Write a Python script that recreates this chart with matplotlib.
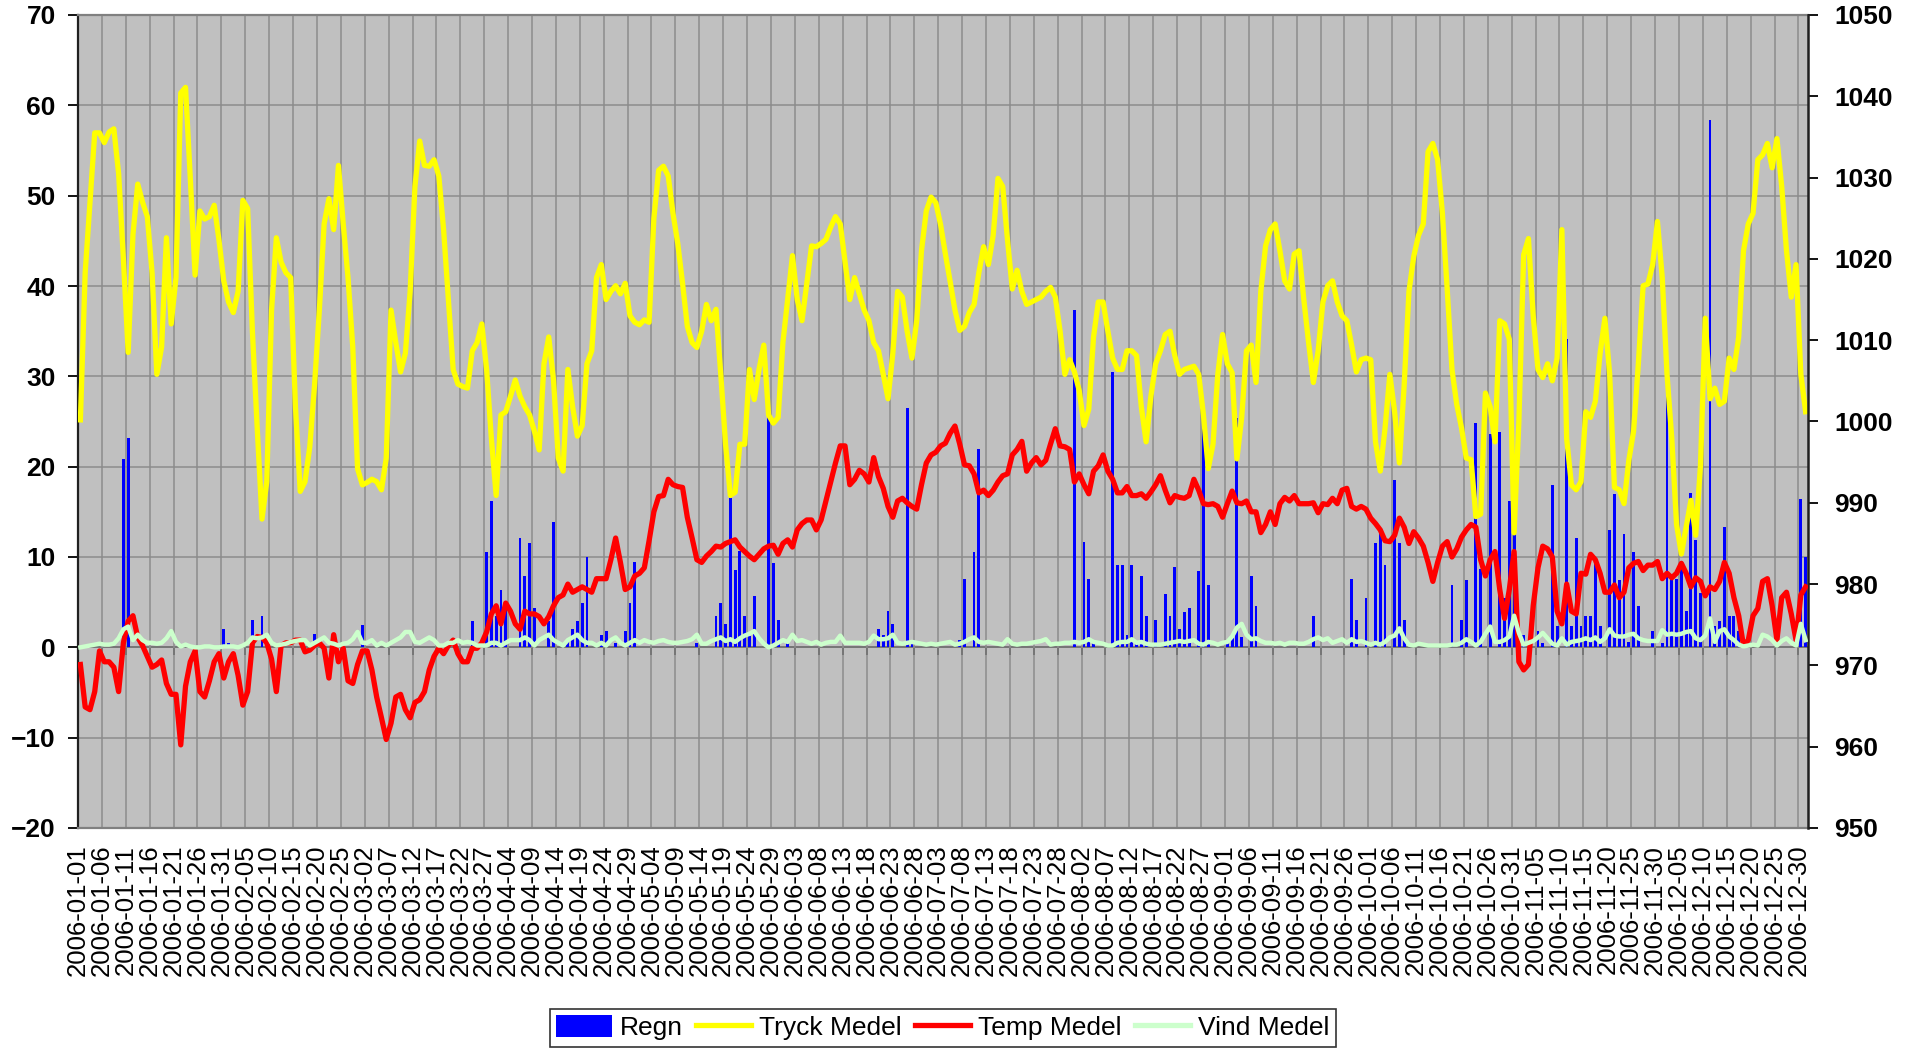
import numpy as np
import pandas as pd
import matplotlib
matplotlib.use("Agg")
import matplotlib.pyplot as plt
from matplotlib.patches import Patch
from matplotlib.lines import Line2D

plt.rcParams['font.family'] = ['Liberation Sans', 'DejaVu Sans']

# ---- categories (dates; a few days missing around 1 April) ----
dates_part1 = pd.date_range('2006-01-01', '2006-03-27')
dates_gap = pd.to_datetime(['2006-03-28', '2006-03-29', '2006-03-30', '2006-03-31'])
dates_part2 = pd.date_range('2006-04-04', '2006-12-31')
dates = [d.strftime('%Y-%m-%d') for d in list(dates_part1) + list(dates_gap) + list(dates_part2)]
tick_labels = dates[::5]

# ---- Tryck Medel (hPa, right axis) ----
tryck = [
    1000.2, 1018.3, 1027.0, 1035.5, 1035.5, 1034.3, 1035.6, 1036.0, 1030.5, 1020.0,
    1008.5, 1023.0, 1029.2, 1027.0, 1025.2, 1018.3, 1005.8, 1009.2, 1022.6, 1012.0,
    1017.7, 1040.4, 1041.1, 1029.9, 1018.0, 1025.9, 1024.9, 1025.2, 1026.6, 1022.3,
    1017.3, 1014.7, 1013.4, 1016.0, 1027.2, 1026.2, 1011.0, 999.2, 988.0, 992.6,
    1013.7, 1022.6, 1019.6, 1018.3, 1017.7, 1001.8, 991.4, 992.6, 996.9, 1004.5,
    1013.7, 1024.3, 1027.4, 1023.6, 1031.5, 1024.3, 1017.7, 1009.1, 994.2, 992.2,
    992.5, 992.9, 992.6, 991.6, 995.5, 1013.7, 1009.7, 1006.1, 1008.4, 1016.0,
    1028.9, 1034.5, 1031.5, 1031.4, 1032.2, 1030.2, 1023.6, 1015.0, 1006.4, 1004.6,
    1004.3, 1004.1, 1008.7, 1009.7, 1012.0, 1006.4, 997.9, 990.9, 1000.8, 1001.2,
    1003.1, 1005.1, 1003.1, 1001.8, 1000.8, 998.8, 996.5, 1007.1, 1010.4, 1005.1,
    995.5, 993.9, 1006.4, 1001.8, 998.2, 999.5, 1007.1, 1008.7, 1017.7, 1019.3,
    1015.0, 1016.0, 1016.7, 1015.7, 1017.0, 1013.0, 1012.2, 1011.9, 1012.5, 1012.2,
    1025.0, 1030.9, 1031.4, 1030.2, 1025.6, 1021.9, 1017.0, 1011.7, 1009.7, 1009.1,
    1011.1, 1014.4, 1012.4, 1013.8, 1005.8, 997.2, 990.9, 991.3, 997.2, 997.2,
    1006.4, 1002.7, 1006.4, 1009.4, 1000.8, 999.8, 1000.5, 1009.7, 1015.0, 1020.4,
    1015.0, 1012.4, 1017.0, 1021.6, 1021.5, 1021.9, 1022.4, 1023.9, 1025.2, 1024.3,
    1019.6, 1015.0, 1017.7, 1015.7, 1013.7, 1012.4, 1009.7, 1008.7, 1005.8, 1002.8,
    1008.4, 1016.0, 1015.3, 1011.1, 1007.8, 1012.4, 1021.0, 1025.9, 1027.6, 1026.9,
    1024.2, 1020.6, 1017.2, 1013.7, 1011.2, 1011.7, 1013.4, 1014.4, 1018.3, 1021.5,
    1019.3, 1022.9, 1029.9, 1028.9, 1022.3, 1016.3, 1018.6, 1016.0, 1014.4, 1014.7,
    1015.0, 1015.3, 1016.0, 1016.5, 1015.3, 1011.1, 1005.8, 1007.6, 1006.1, 1003.8,
    999.5, 1001.5, 1010.4, 1014.7, 1014.7, 1011.1, 1007.8, 1006.4, 1006.4, 1008.7,
    1008.7, 1008.1, 1001.8, 997.5, 1003.1, 1007.1, 1008.7, 1010.7, 1011.1, 1008.1,
    1005.8, 1006.4, 1006.6, 1006.8, 1005.8, 1000.8, 994.2, 997.2, 1005.8, 1010.7,
    1007.1, 1006.0, 995.4, 1000.5, 1008.7, 1009.4, 1004.8, 1016.0, 1021.6, 1023.6,
    1024.3, 1021.0, 1017.3, 1016.3, 1020.6, 1021.0, 1015.0, 1009.7, 1004.8, 1008.7,
    1014.7, 1016.7, 1017.3, 1014.7, 1013.0, 1012.4, 1009.4, 1006.1, 1007.6, 1007.8,
    1007.6, 997.5, 993.9, 999.2, 1005.8, 1001.2, 994.9, 1004.5, 1016.0, 1020.3,
    1022.9, 1024.3, 1033.2, 1034.2, 1032.2, 1025.6, 1016.3, 1006.4, 1002.1, 999.2,
    995.5, 995.3, 988.3, 988.6, 1003.5, 1001.8, 997.5, 1012.4, 1012.0, 1010.1,
    986.3, 1000.0, 1020.5, 1022.5, 1013.0, 1006.4, 1005.4, 1007.1, 1005.0, 1007.8,
    1023.6, 997.9, 992.2, 991.6, 992.6, 1001.2, 1000.5, 1002.5, 1008.4, 1012.7,
    1005.8, 991.9, 991.6, 989.9, 995.2, 998.8, 1007.1, 1016.7, 1016.9, 1019.3,
    1024.6, 1017.7, 1005.8, 997.9, 987.3, 983.7, 987.0, 990.3, 986.0, 994.6,
    1012.7, 1002.8, 1004.1, 1002.1, 1002.5, 1007.8, 1006.4, 1010.4, 1021.0, 1024.3,
    1025.6, 1032.2, 1032.8, 1034.2, 1031.2, 1034.8, 1028.9, 1021.0, 1015.3, 1019.3,
    1005.8, 1001.2,
]

# ---- Temp Medel (deg C, left axis) ----
temp = [
    -1.9, -6.6, -6.9, -4.9, -0.4, -1.6, -1.6, -2.2, -4.9, 0.5,
    2.9, 3.5, 1.1, 0.2, -1.0, -2.2, -1.9, -1.4, -4.0, -5.2,
    -5.2, -10.8, -4.3, -1.6, -0.4, -4.9, -5.5, -3.7, -1.6, -0.7,
    -3.4, -1.6, -0.7, -3.1, -6.4, -4.9, 0.5, 1.2, 1.1, 0.5,
    -1.3, -4.9, 0.2, 0.5, 0.5, 0.8, 0.8, -0.5, -0.3, 0.2,
    0.5, -0.1, -3.4, 1.4, -1.6, -0.1, -3.7, -4.0, -1.9, -0.4,
    -0.4, -2.5, -5.5, -7.8, -10.2, -8.4, -5.5, -5.2, -6.9, -7.8,
    -6.1, -5.8, -4.9, -2.5, -1.0, -0.1, -0.7, 0.2, 0.8, -0.7,
    -1.6, -1.6, -0.1, -0.1, 0.5, 1.7, 3.7, 4.6, 2.6, 4.9,
    4.0, 2.6, 2.0, 4.0, 3.7, 3.7, 3.4, 2.6, 3.4, 4.6,
    5.5, 5.8, 7.0, 6.1, 6.4, 6.7, 6.4, 6.1, 7.6, 7.6,
    7.6, 9.7, 12.1, 9.4, 6.4, 6.7, 7.9, 8.2, 8.8, 11.8,
    15.0, 16.7, 16.8, 18.6, 18.0, 17.8, 17.7, 14.4, 12.1, 9.7,
    9.4, 10.1, 10.6, 11.2, 11.1, 11.5, 11.7, 11.9, 11.1, 10.6,
    10.1, 9.7, 10.3, 10.9, 11.2, 11.3, 10.3, 11.5, 11.9, 11.1,
    13.0, 13.7, 14.1, 14.1, 13.0, 14.1, 16.2, 18.3, 20.4, 22.3,
    22.3, 18.0, 18.6, 19.6, 19.2, 18.3, 21.0, 18.9, 17.6, 15.6,
    14.4, 16.2, 16.5, 16.0, 15.6, 15.3, 18.0, 20.4, 21.3, 21.6,
    22.3, 22.6, 23.7, 24.5, 22.5, 20.2, 20.1, 19.2, 17.1, 17.4,
    16.8, 17.4, 18.3, 19.0, 19.2, 21.3, 21.9, 22.8, 19.5, 20.4,
    21.0, 20.2, 20.7, 22.5, 24.2, 22.3, 22.2, 21.9, 18.3, 19.2,
    18.0, 17.0, 19.5, 20.1, 21.3, 19.5, 18.6, 17.1, 17.1, 17.8,
    16.8, 16.8, 17.0, 16.5, 17.2, 18.0, 19.0, 17.4, 16.0, 16.8,
    16.6, 16.5, 16.8, 18.6, 17.4, 15.9, 15.8, 15.9, 15.6, 14.4,
    15.9, 17.3, 16.0, 15.9, 16.2, 15.0, 15.0, 12.7, 13.6, 15.0,
    13.6, 15.9, 16.6, 16.2, 16.8, 15.9, 15.9, 15.9, 16.0, 14.9,
    15.9, 15.8, 16.5, 15.9, 17.4, 17.6, 15.6, 15.3, 15.6, 15.3,
    14.3, 13.7, 13.0, 11.8, 11.7, 12.4, 14.3, 13.3, 11.5, 12.8,
    12.1, 11.2, 9.4, 7.3, 9.4, 11.2, 11.7, 10.0, 10.9, 12.2,
    13.0, 13.6, 13.3, 9.7, 7.9, 9.7, 10.6, 6.4, 3.2, 6.4,
    10.6, -1.6, -2.5, -1.9, 4.6, 8.8, 11.2, 10.9, 10.0, 4.0,
    2.6, 7.0, 4.0, 3.7, 8.2, 8.1, 10.3, 9.7, 8.2, 6.1,
    6.1, 6.9, 5.5, 6.1, 8.8, 9.3, 9.5, 8.5, 9.1, 9.1,
    9.5, 7.6, 8.2, 7.7, 8.2, 9.3, 8.2, 6.7, 7.7, 7.3,
    5.7, 6.7, 6.4, 7.3, 9.4, 8.2, 5.5, 3.5, 0.2, 0.8,
    3.5, 4.3, 7.3, 7.6, 4.6, 0.8, 5.5, 6.1, 3.7, 0.8,
    5.8, 6.7,
]

# ---- Vind Medel (left axis) ----
vind = [
    0.0, 0.1, 0.2, 0.3, 0.4, 0.3, 0.3, 0.4, 1.0, 2.0,
    2.3, 0.8, 1.4, 0.8, 0.5, 0.5, 0.4, 0.5, 1.0, 1.8,
    0.6, 0.1, 0.3, 0.1, 0.0, 0.0, 0.1, 0.1, 0.0, 0.0,
    0.1, 0.1, 0.1, 0.0, 0.2, 0.5, 1.1, 1.0, 1.1, 1.4,
    0.5, 0.2, 0.3, 0.4, 0.6, 0.7, 0.8, 0.8, 0.2, 0.5,
    0.8, 1.1, 0.5, 0.4, 0.2, 0.4, 0.5, 0.9, 1.7, 0.5,
    0.5, 0.8, 0.2, 0.5, 0.2, 0.5, 0.8, 1.1, 1.7, 1.7,
    0.6, 0.5, 0.8, 1.1, 0.8, 0.2, 0.2, 0.5, 0.5, 0.8,
    0.5, 0.6, 0.5, 0.2, 0.2, 0.2, 0.5, 0.5, 0.2, 0.5,
    0.8, 0.8, 0.8, 1.1, 0.8, 0.2, 0.8, 1.1, 1.4, 0.8,
    0.5, 0.2, 0.8, 1.1, 1.4, 0.8, 0.5, 0.5, 0.2, 0.5,
    0.2, 0.8, 1.1, 0.5, 0.2, 0.5, 0.8, 0.5, 0.8, 0.6,
    0.5, 0.7, 0.8, 0.6, 0.5, 0.5, 0.6, 0.7, 0.9, 1.4,
    0.4, 0.4, 0.7, 0.9, 1.1, 0.7, 0.9, 0.6, 1.0, 1.3,
    1.5, 1.8, 1.0, 0.4, 0.0, 0.2, 0.5, 0.8, 0.6, 1.4,
    0.7, 0.8, 0.6, 0.4, 0.6, 0.3, 0.5, 0.6, 0.6, 1.3,
    0.5, 0.5, 0.5, 0.5, 0.4, 0.6, 1.3, 0.9, 0.9, 1.0,
    1.4, 0.5, 0.4, 0.5, 0.6, 0.5, 0.4, 0.3, 0.4, 0.3,
    0.4, 0.5, 0.6, 0.3, 0.4, 0.6, 0.9, 1.1, 0.6, 0.5,
    0.6, 0.5, 0.4, 0.3, 0.9, 0.4, 0.3, 0.4, 0.4, 0.5,
    0.6, 0.7, 0.9, 0.3, 0.4, 0.4, 0.5, 0.5, 0.6, 0.5,
    0.6, 0.9, 0.6, 0.5, 0.4, 0.2, 0.2, 0.5, 0.6, 0.6,
    0.9, 0.5, 0.6, 0.4, 0.3, 0.3, 0.3, 0.4, 0.5, 0.6,
    0.7, 0.6, 0.7, 0.8, 0.4, 0.3, 0.6, 0.5, 0.3, 0.5,
    0.6, 1.2, 2.2, 2.6, 1.4, 0.9, 1.0, 0.7, 0.5, 0.5,
    0.4, 0.5, 0.3, 0.5, 0.5, 0.4, 0.4, 0.6, 0.9, 1.1,
    0.8, 1.0, 0.5, 0.7, 0.9, 0.5, 0.9, 0.6, 0.7, 0.5,
    0.3, 0.5, 0.3, 0.6, 1.1, 1.3, 2.1, 1.0, 0.3, 0.2,
    0.4, 0.3, 0.2, 0.2, 0.2, 0.2, 0.2, 0.3, 0.3, 0.5,
    0.9, 0.6, 0.2, 0.6, 1.5, 2.3, 0.6, 0.6, 0.8, 1.2,
    3.5, 1.6, 0.3, 0.5, 0.7, 1.1, 1.6, 1.0, 0.4, 0.2,
    1.0, 0.3, 0.6, 0.7, 0.8, 1.0, 0.8, 1.1, 0.6, 1.0,
    2.0, 1.3, 1.2, 1.2, 1.4, 1.5, 1.0, 0.8, 0.7, 0.7,
    0.7, 1.9, 1.4, 1.5, 1.4, 1.5, 1.7, 1.8, 1.0, 0.8,
    1.3, 3.2, 0.6, 1.8, 2.0, 1.2, 0.8, 0.3, 0.1, 0.2,
    0.3, 0.2, 1.4, 1.2, 0.8, 0.2, 0.7, 1.0, 0.5, 0.2,
    2.6, 0.8,
]

# ---- Regn (mm, left axis): category index -> amount; other days 0 ----
regn_index = [9, 10, 30, 31, 33, 36, 38, 49, 59, 82, 85, 86, 87, 88, 89, 92, 93, 94, 95,
              98, 99, 102, 103, 104, 105, 106, 109, 110, 112, 114, 115, 116,
              129, 133, 134, 135, 136, 137, 138, 139, 140, 141, 144, 145, 146, 148,
              167, 168, 169, 170, 173, 174,
              184, 185, 187, 188, 208, 210, 211, 212, 216, 217, 218, 219, 220, 221,
              222, 223, 225, 227, 228, 229, 230, 231, 232, 234, 235, 236, 240, 241, 242,
              243, 245, 246, 258, 266, 267, 269, 271, 272, 273, 275, 276, 277,
              287, 289, 290, 292, 293, 295, 297, 298, 299, 300,
              302, 305, 306, 308, 309, 311, 312, 313, 314, 315, 316, 317, 318, 320,
              321, 322, 323, 324, 325, 326, 329, 331, 332, 333, 334, 335, 336, 337,
              338, 339, 341, 342, 343, 344, 345, 346, 347, 360, 361]
regn_mm = [20.8, 23.2, 2.0, 0.5, 0.3, 3.0, 3.5, 1.5, 2.5, 2.9, 10.6, 16.2, 3.5, 6.4, 4.6, 12.1, 7.9, 11.5, 4.3,
           2.9, 13.9, 0.8, 2.0, 2.9, 4.9, 10.0, 1.4, 1.8, 0.5, 1.8, 4.9, 9.4,
           0.5, 3.5, 4.9, 2.6, 16.5, 8.6, 10.7, 3.5, 1.2, 5.7, 26.8, 9.3, 3.0, 0.5,
           2.0, 1.4, 4.0, 2.6, 26.5, 0.5,
           0.8, 7.6, 10.6, 22.0, 37.3, 11.7, 7.6, 0.5, 30.5, 9.1, 9.1, 1.4, 9.1, 0.5,
           7.9, 3.5, 3.0, 5.9, 3.5, 8.9, 2.0, 3.9, 4.3, 8.5, 24.8, 6.9, 0.6, 1.4, 25.4,
           1.1, 7.9, 4.6, 3.5, 7.6, 3.0, 5.5, 11.5, 12.7, 9.1, 18.5, 11.5, 3.0,
           6.9, 3.0, 7.5, 24.8, 8.7, 23.6, 23.8, 5.5, 16.2, 13.0,
           1.4, 1.8, 0.5, 18.0, 2.4, 34.1, 2.4, 12.1, 2.4, 3.5, 3.5, 9.4, 2.4, 13.0,
           17.0, 7.5, 12.5, 0.6, 10.5, 4.6, 1.8, 0.5, 30.1, 7.6, 7.6, 9.1, 4.0, 17.1,
           11.9, 6.0, 58.4, 2.4, 2.9, 13.3, 3.5, 3.5, 1.8, 16.4, 10.0]

N = len(dates)
assert len(tryck) == N and len(temp) == N and len(vind) == N, (N, len(tryck), len(temp), len(vind))
assert len(regn_index) == len(regn_mm)
regn = np.zeros(N)
regn[regn_index] = regn_mm
x = np.arange(N)

# ---- figure ----
W, H = 1910, 1052
fig = plt.figure(figsize=(W / 100, H / 100), dpi=100)
L, R, T, B = 78, 1808, 15, 828
rect = [L / W, 1 - B / H, (R - L) / W, (B - T) / H]

ax = fig.add_axes(rect)
ax.set_facecolor('#C0C0C0')
ax.set_axisbelow(True)
ax.bar(x, regn, width=0.6, color='#0000FF', linewidth=0, zorder=2)
ax.set_xlim(-0.5, N - 0.5)
ax.set_ylim(-20, 70)
ax.set_yticks(np.arange(-20, 71, 10))
ax.grid(True, axis='both', color='#8C8C8C', linewidth=1.1)
ax.set_xticks(np.arange(0, N, 5) - 0.5)
ax.set_xticklabels(tick_labels, rotation=90, fontsize=18.5)
ax.tick_params(axis='x', length=0, pad=12)
ax.tick_params(axis='y', direction='out', length=7, width=1.3, pad=9, labelsize=19)
for lab in ax.get_yticklabels():
    lab.set_fontweight('bold')
ax.spines['left'].set_color('#202020')
ax.spines['left'].set_linewidth(1.6)
ax.spines['bottom'].set_color('#808080')
ax.spines['top'].set_color('#808080')
ax.spines['bottom'].set_linewidth(1.6)
ax.spines['top'].set_linewidth(1.6)
ax.spines['right'].set_visible(False)

# category axis crossing at value 0, with its tick marks
sec = ax.secondary_xaxis(20 / 90)
sec.set_xticks(np.arange(0, N, 5) - 0.5)
sec.tick_params(axis='x', direction='out', length=6, width=1.3, color='#202020',
                labelbottom=False, labeltop=False)
for s in sec.spines.values():
    s.set_color('#303030')
    s.set_linewidth(1.4)

# pressure on right axis
ax2 = ax.twinx()
ax2.plot(x, tryck, color='#FFFF00', linewidth=3.8, solid_joinstyle='round')
ax2.set_ylim(950, 1050)
ax2.set_yticks(np.arange(950, 1051, 10))
ax2.tick_params(axis='y', direction='out', length=7, width=1.3, pad=12, labelsize=19)
for lab in ax2.get_yticklabels():
    lab.set_fontweight('bold')
for side in ['left', 'top', 'bottom']:
    ax2.spines[side].set_visible(False)
ax2.spines['right'].set_color('#202020')
ax2.spines['right'].set_linewidth(1.8)

# temperature and wind on the left scale, drawn above pressure
ax3 = fig.add_axes(rect, sharex=ax, sharey=ax)
ax3.patch.set_visible(False)
ax3.plot(x, temp, color='#FF0000', linewidth=3.8, solid_joinstyle='round')
ax3.plot(x, vind, color='#CCFFCC', linewidth=3.2, solid_joinstyle='round')
ax3.axis('off')

handles = [Patch(facecolor='#0000FF', edgecolor='none'),
           Line2D([], [], color='#FFFF00', linewidth=3.8),
           Line2D([], [], color='#FF0000', linewidth=3.8),
           Line2D([], [], color='#CCFFCC', linewidth=3.8)]
labels = ['Regn', 'Tryck Medel', 'Temp Medel', 'Vind Medel']
leg = fig.legend(handles, labels, loc='lower center', bbox_to_anchor=((L + R) / 2 / W, 5 / H),
                 ncol=4, fontsize=19, frameon=True, fancybox=False, edgecolor='black',
                 handlelength=2.1, handleheight=0.9, handletextpad=0.3, columnspacing=0.5,
                 borderpad=0.25, borderaxespad=0)
leg.get_frame().set_linewidth(1.2)

fig.savefig('out.png', dpi=100, facecolor='white')
